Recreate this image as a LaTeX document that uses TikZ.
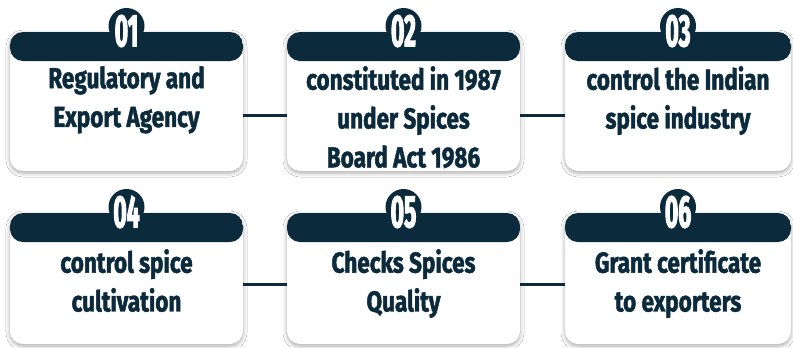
\documentclass[tikz,border=0pt]{standalone}
\usepackage{fontspec}
\setmainfont{Fira Sans}[FakeStretch=0.78, BoldFeatures={FakeBold=1.6}]
\newfontfamily\numfont{Fira Sans}[FakeStretch=0.5, BoldFeatures={FakeBold=2}]
\usetikzlibrary{shadows.blur}
\definecolor{navy}{HTML}{0B2A3C}

\tikzset{
  card/.style={fill=white, rounded corners=13bp, inner sep=0pt,
    blur shadow={shadow xshift=0bp, shadow yshift=-2bp,
      shadow blur radius=4bp, shadow opacity=35},
    path picture={\fill[navy] (path picture bounding box.north west)
      rectangle ([yshift=-29bp]path picture bounding box.north east);}},
  badge/.style={circle, fill=navy, minimum size=36bp, inner sep=0pt},
  num/.style={text=white, inner sep=0pt,
    font=\numfont\bfseries\fontsize{46}{46}\selectfont},
  label/.style={text=navy, align=center, inner sep=0pt, anchor=north,
    font=\bfseries\fontsize{29}{39}\selectfont},
  conn/.style={draw=navy, line width=3bp},
}

\begin{document}
\begin{tikzpicture}[x=1bp, y=-1bp]
  \fill[white] (0,0) rectangle (793,347);
  \useasboundingbox (0,0) rectangle (793,347);

  % first row
  \node[card, minimum width=233bp, minimum height=139bp] (c1) at (126.5,101.5) {};
  \node[card, minimum width=233bp, minimum height=139bp] (c2) at (403.5,101.5) {};
  \node[card, minimum width=226bp, minimum height=139bp] (c3) at (678,101.5) {};
  % second row
  \node[card, minimum width=233bp, minimum height=131bp] (c4) at (126.5,278.5) {};
  \node[card, minimum width=233bp, minimum height=131bp] (c5) at (403.5,278.5) {};
  \node[card, minimum width=226bp, minimum height=131bp] (c6) at (678,278.5) {};

  % number badges
  \foreach \c/\n/\y in {c1/01/26, c2/02/26, c3/03/26, c4/04/207, c5/05/207, c6/06/207}{
    \node[badge] (b\n) at (\c.center |- 0,\y) {};
    \node[num] (n\n) at ([yshift=-5bp]b\n.center) {\n};
  }

  % card texts
  \node[label] (t1) at (c1.center |- 0,66) {Regulatory and\\Export Agency};
  \node[label] (t2) at (c2.center |- 0,66) {constituted in 1987\\under Spices\\Board Act 1986};
  \node[label] (t3) at (c3.center |- 0,66) {control the Indian\\spice industry};
  \node[label] (t4) at (c4.center |- 0,249) {control spice\\cultivation};
  \node[label] (t5) at (c5.center |- 0,249) {Checks Spices\\Quality};
  \node[label] (t6) at (c6.center |- 0,249) {Grant certificate\\to exporters};

  % connectors
  \draw[conn] ([yshift=-13.5bp]c1.east) -- ([yshift=-13.5bp]c2.west);
  \draw[conn] ([yshift=-13.5bp]c2.east) -- ([yshift=-13.5bp]c3.west);
  \draw[conn] ([yshift=-5.5bp]c4.east) -- ([yshift=-5.5bp]c5.west);
  \draw[conn] ([yshift=-5.5bp]c5.east) -- ([yshift=-5.5bp]c6.west);
\end{tikzpicture}
\end{document}
